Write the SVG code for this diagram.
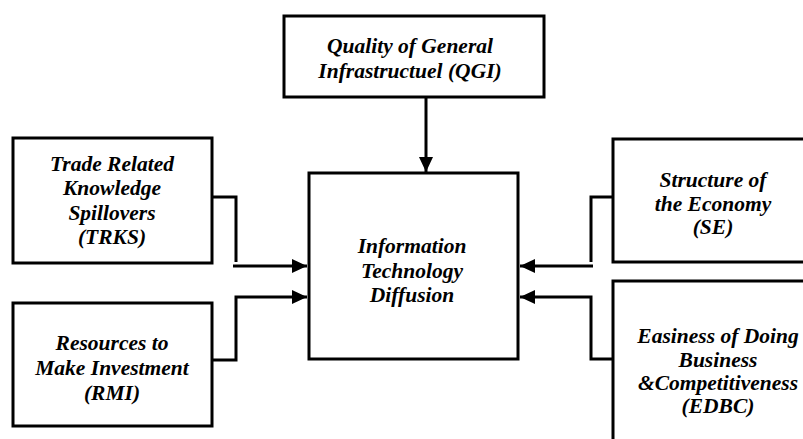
<svg xmlns="http://www.w3.org/2000/svg" width="803" height="439" viewBox="0 0 803 439">
<style>
.box{fill:#fff;stroke:#000;stroke-width:3}
.t{font-family:"Liberation Serif","Times New Roman",serif;font-weight:bold;font-style:italic;font-size:21.5px;text-anchor:middle;fill:#000}
.c{fill:none;stroke:#000;stroke-width:3}
</style>
<defs>
<marker id="ah" markerUnits="userSpaceOnUse" markerWidth="16" markerHeight="16" viewBox="0 0 16 16" refX="15" refY="8" orient="auto">
<polygon points="0,1 15,8 0,15" fill="#000"/>
</marker>
</defs>
<rect width="803" height="439" fill="#fff"/>
<g id="connectors">
<line class="c" x1="426" y1="97" x2="426" y2="172" marker-end="url(#ah)"/>
<polyline class="c" points="212,197 236,197 236,262"/>
<line class="c" x1="233" y1="266" x2="307" y2="266" marker-end="url(#ah)"/>
<polyline class="c" points="212,360 236,360 236,297 307,297" marker-end="url(#ah)"/>
<polyline class="c" points="613,197 591,197 591,262"/>
<line class="c" x1="593" y1="266" x2="520" y2="266" marker-end="url(#ah)"/>
<polyline class="c" points="613,359 591,359 591,297 520,297" marker-end="url(#ah)"/>
</g>
<g id="qgi">
<rect class="box" x="284" y="16" width="260" height="81"/>
<text class="t" x="410" y="53">Quality of General</text>
<text class="t" x="410" y="78">Infrastructuel (QGI)</text>
</g>
<g id="itd">
<rect class="box" x="309" y="173" width="209" height="186"/>
<text class="t" x="412" y="253">Information</text>
<text class="t" x="412" y="278">Technology</text>
<text class="t" x="412" y="302">Diffusion</text>
</g>
<g id="trks">
<rect class="box" x="13" y="138" width="199" height="125"/>
<text class="t" x="112" y="171">Trade Related</text>
<text class="t" x="112" y="195">Knowledge</text>
<text class="t" x="112" y="220">Spillovers</text>
<text class="t" x="112" y="244">(TRKS)</text>
</g>
<g id="rmi">
<rect class="box" x="13" y="303" width="199" height="123"/>
<text class="t" x="112" y="350">Resources to</text>
<text class="t" x="112" y="375">Make Investment</text>
<text class="t" x="112" y="400">(RMI)</text>
</g>
<g id="se">
<rect class="box" x="613" y="139" width="200" height="123"/>
<text class="t" x="713" y="187">Structure of</text>
<text class="t" x="713" y="211">the Economy</text>
<text class="t" x="713" y="234">(SE)</text>
</g>
<g id="edbc">
<rect class="box" x="613" y="281" width="200" height="170"/>
<text class="t" x="718" y="343">Easiness of Doing</text>
<text class="t" x="718" y="367">Business</text>
<text class="t" x="718" y="390">&amp;Competitiveness</text>
<text class="t" x="718" y="413">(EDBC)</text>
</g>
</svg>
